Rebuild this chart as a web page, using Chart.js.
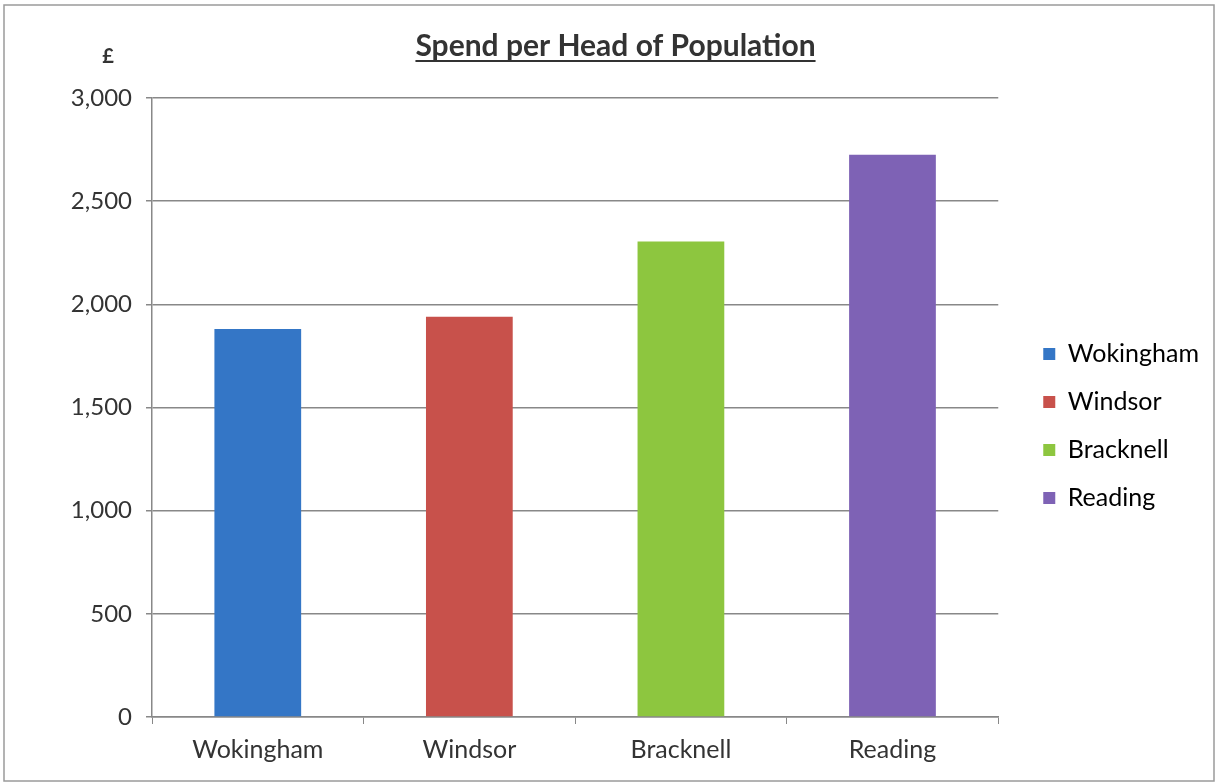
<!DOCTYPE html>
<html>
<head>
<meta charset="utf-8">
<title>Spend per Head of Population</title>
<script src="https://cdn.jsdelivr.net/npm/chart.js@4/dist/chart.umd.min.js"></script>
<style>
  html, body { margin: 0; padding: 0; background: #fff; }
  #wrap { width: 1219px; height: 784px; position: relative; }
</style>
</head>
<body>
<div id="wrap"><canvas id="chart"></canvas></div>
<script>
// spend per head, by borough
const boroughs = ['Wokingham', 'Windsor', 'Bracknell', 'Reading'];
const spendPerHead = [1880, 1940, 2305, 2725];
const barColours = ['#3476c6', '#c8514b', '#8dc63f', '#7e62b5'];

const FONT = "Lato, 'Open Sans', sans-serif";
const GRID = '#888888';
const TEXT = '#333333';

// push the legend a little away from the plot and down
const legendNudge = {
  id: 'legendNudge',
  afterLayout(chart) {
    const lg = chart.legend;
    lg.left += 22; lg.right += 22;
    lg.top += 30; lg.bottom += 30;
  }
};

// underline under the title, "£" unit label and the outer frame
const decorations = {
  id: 'decorations',
  afterDraw(chart) {
    const ctx = chart.ctx;
    const t = chart.titleBlock;
    const topt = chart.options.plugins.title;
    ctx.save();

    // title underline
    ctx.font = topt.font.weight + ' ' + topt.font.size + 'px ' + FONT;
    const w = ctx.measureText(topt.text).width;
    const cx = (t.left + t.right) / 2;
    const uy = t.top + t.height - topt.padding.bottom - 3;
    ctx.strokeStyle = TEXT;
    ctx.lineWidth = 2;
    ctx.beginPath();
    ctx.moveTo(cx - w / 2, uy);
    ctx.lineTo(cx + w / 2, uy);
    ctx.stroke();

    // currency unit above the value axis
    const y = chart.scales.y;
    ctx.fillStyle = TEXT;
    ctx.font = 'bold 20px ' + FONT;
    ctx.textAlign = 'center';
    ctx.textBaseline = 'middle';
    ctx.fillText('£', y.right - 44, y.top - 41);

    // frame round the chart
    ctx.strokeStyle = '#9a9a9a';
    ctx.lineWidth = 1.5;
    ctx.strokeRect(4, 5, chart.width - 9, chart.height - 8);
    ctx.restore();
  }
};

new Chart(document.getElementById('chart'), {
  type: 'bar',
  data: {
    labels: boroughs,
    datasets: [{
      data: spendPerHead,
      backgroundColor: barColours,
      barPercentage: 0.41,
      categoryPercentage: 1
    }]
  },
  options: {
    responsive: true,
    maintainAspectRatio: false,
    animation: false,
    layout: { padding: { left: 44, right: 32, top: 20, bottom: 12 } },
    plugins: {
      title: {
        display: true,
        text: 'Spend per Head of Population',
        color: TEXT,
        font: { family: FONT, size: 30, weight: 'bold' },
        padding: { top: 8, bottom: 34 }
      },
      legend: {
        position: 'right',
        labels: {
          color: TEXT,
          font: { family: FONT, size: 25 },
          boxWidth: 12,
          boxHeight: 12,
          padding: 23,
          generateLabels(chart) {
            const ds = chart.data.datasets[0];
            return chart.data.labels.map((l, i) => ({
              text: l,
              fillStyle: ds.backgroundColor[i],
              strokeStyle: ds.backgroundColor[i],
              lineWidth: 0,
              index: i
            }));
          }
        }
      },
      tooltip: { enabled: false }
    },
    scales: {
      x: {
        grid: { drawOnChartArea: false, drawTicks: true, tickLength: 7, color: GRID, offset: true },
        border: { color: GRID, width: 1.5 },
        ticks: { color: TEXT, font: { family: FONT, size: 25 }, padding: 11 },
        afterFit(s) { s.height = 55; }
      },
      y: {
        min: 0,
        max: 3000,
        ticks: {
          stepSize: 500,
          color: TEXT,
          font: { family: FONT, size: 24 },
          padding: 14,
          callback: v => v.toLocaleString('en-GB')
        },
        grid: { color: GRID, lineWidth: 1.5, tickLength: 6 },
        border: { color: GRID, width: 1.5 },
        afterFit(s) { s.width = 108; }
      }
    }
  },
  plugins: [legendNudge, decorations]
});
</script>
</body>
</html>
